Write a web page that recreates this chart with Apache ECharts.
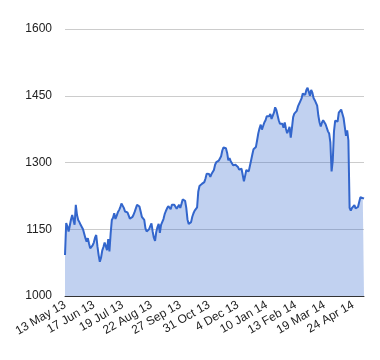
<!DOCTYPE html>
<html>
<head>
<meta charset="utf-8">
<script src="https://cdn.jsdelivr.net/npm/echarts@6/dist/echarts.min.js"></script>
<style>
html,body{margin:0;padding:0;background:#fff;}
#chart{width:380px;height:360px;}
</style>
</head>
<body>
<div id="chart"></div>
<script>
// Tick labels shown every 24 trading days
const tickLabels = ["13 May 13","17 Jun 13","19 Jul 13","22 Aug 13","27 Sep 13","31 Oct 13","4 Dec 13","10 Jan 14","13 Feb 14","19 Mar 14","24 Apr 14"];
const labelStep = 24;

// Daily closing values
const values = [
1092,1164,1156,1145,1149,1172,1182,1184,1160,1205,
1182,1171,1166,1160,1155,1150,1140,1130,1122,1130,
1118,1107,1111,1114,1120,1131,1137,1112,1092,1077,
1086,1102,1110,1120,1112,1103,1128,1100,1140,1171,
1176,1186,1173,1180,1188,1193,1199,1208,1206,1198,
1190,1194,1188,1181,1174,1172,1177,1182,1189,1197,
1205,1203,1201,1190,1178,1180,1171,1152,1145,1146,
1150,1157,1163,1145,1131,1124,1144,1155,1162,1142,
1160,1164,1173,1184,1191,1197,1202,1204,1195,1205,
1202,1205,1208,1196,1200,1205,1198,1207,1217,1220,
1214,1198,1172,1162,1161,1166,1178,1186,1192,1192,
1199,1235,1247,1249,1252,1256,1256,1264,1275,1277,
1274,1268,1274,1278,1283,1295,1301,1299,1304,1304,
1314,1327,1334,1335,1332,1322,1305,1310,1303,1306,
1294,1293,1295,1295,1290,1284,1280,1286,1272,1258,
1270,1283,1282,1280,1279,1305,1318,1330,1333,1335,
1350,1366,1377,1385,1374,1382,1390,1395,1404,1406,
1404,1409,1398,1396,1412,1424,1418,1414,1395,1387,
1386,1387,1378,1390,1376,1366,1372,1380,1356,1378,
1402,1410,1412,1416,1426,1422,1438,1444,1455,1458,
1452,1463,1468,1470,1450,1463,1457,1445,1440,1440,
1428,1405,1390,1381,1390,1395,1394,1386,1378,1370,
1365,1345,1280,1305,1370,1394,1398,1392,1412,1410,
1419,1420,1400,1380,1360,1372,1350,1198,1192,1198,
1196,1204,1197,1201,1200,1211,1222,1224,1220,1219
];

const categories = values.map((v, i) => i);

const chart = echarts.init(document.getElementById('chart'), null, {renderer: 'canvas'});
chart.setOption({
  animation: false,
  backgroundColor: '#fff',
  grid: {left: 65, right: 16, top: 29, bottom: 64},
  xAxis: {
    type: 'category',
    data: categories,
    boundaryGap: false,
    axisLine: {show: true, lineStyle: {color: '#333', width: 1}},
    axisTick: {show: false},
    splitLine: {show: false},
    axisLabel: {
      interval: labelStep - 1,
      rotate: 30,
      margin: 8,
      color: '#222',
      fontFamily: 'Arial, "Liberation Sans", sans-serif',
      fontSize: 12,
      formatter: function (v, idx) { return tickLabels[Math.round(idx / labelStep)] || ''; }
    }
  },
  yAxis: {
    type: 'value',
    min: 1000,
    max: 1600,
    interval: 150,
    axisLine: {show: false},
    axisTick: {show: false},
    splitLine: {show: true, lineStyle: {color: '#cccccc', width: 1}},
    axisLabel: {
      margin: 13,
      color: '#222',
      fontFamily: 'Arial, "Liberation Sans", sans-serif',
      fontSize: 12,
      formatter: function (v) { return String(v); }
    }
  },
  series: [{
    type: 'line',
    data: values,
    showSymbol: false,
    symbol: 'none',
    lineStyle: {color: '#3366cc', width: 2},
    itemStyle: {color: '#3366cc'},
    areaStyle: {color: '#3366cc', opacity: 0.3}
  }]
});
</script>
</body>
</html>
